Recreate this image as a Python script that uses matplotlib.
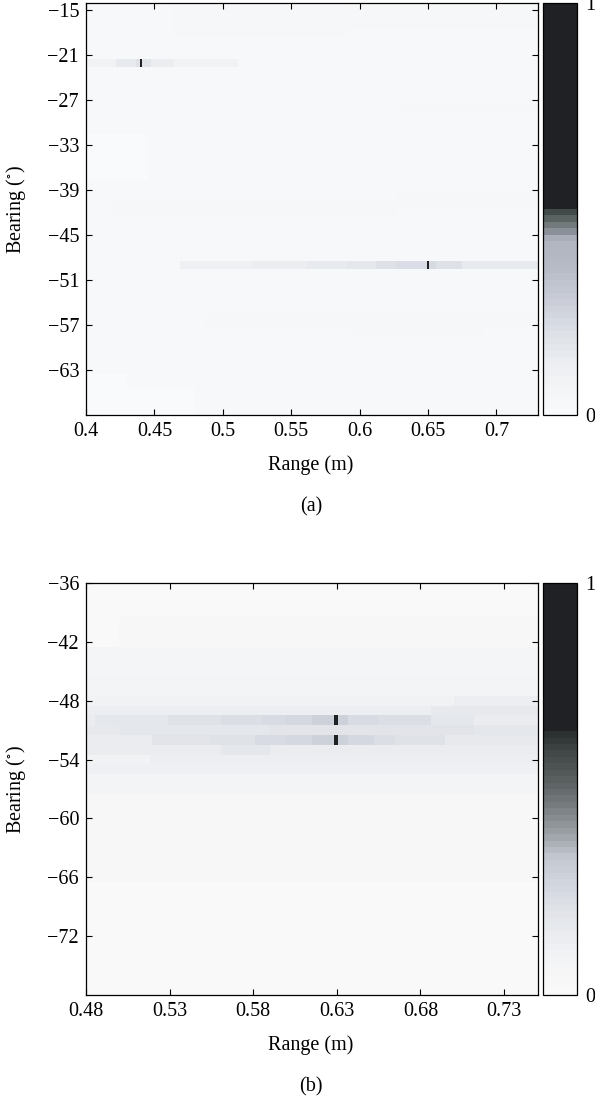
import numpy as np
import matplotlib
matplotlib.use("Agg")
import matplotlib.pyplot as plt
from matplotlib.colors import LinearSegmentedColormap

plt.rcParams["font.family"] = ["Liberation Serif", "DejaVu Serif"]
plt.rcParams["mathtext.fontset"] = "stix"
FS = 14.5

# ---- panel (a) ----
bearing_a = np.arange(-70, -13)          # bearing cells (deg)
range_lim_a = (0.40, 0.73)               # range (m)
base_a = 0.02
# (bearing_low, bearing_high, range_start, range_end, level)
cells_a = [
    (-18, -15, 0.463, 0.592, 0.035),
    (-17, -14, 0.592, 0.730, 0.040),
    (-28, -28, 0.420, 0.630, 0.030),
    (-28, -28, 0.630, 0.730, 0.040),
    (-37, -32, 0.400, 0.445, 0.000),
    (-42, -41, 0.419, 0.627, 0.035),
    (-41, -40, 0.627, 0.730, 0.035),
    (-57, -56, 0.488, 0.730, 0.035),
    (-58, -58, 0.595, 0.690, 0.040),
    (-69, -64, 0.400, 0.430, 0.000),
    (-69, -66, 0.430, 0.480, 0.005),
    # target 1 row
    (-22, -22, 0.4000, 0.4218, 0.090),
    (-22, -22, 0.4218, 0.4364, 0.150),
    (-22, -22, 0.4364, 0.4393, 0.195),
    (-22, -22, 0.4393, 0.4411, 1.000),
    (-22, -22, 0.4411, 0.4474, 0.185),
    (-22, -22, 0.4474, 0.4641, 0.135),
    (-22, -22, 0.4641, 0.4796, 0.090),
    (-22, -22, 0.4796, 0.5110, 0.080),
    # target 2 row
    (-49, -49, 0.4686, 0.5208, 0.105),
    (-49, -49, 0.5208, 0.5608, 0.135),
    (-49, -49, 0.5608, 0.5900, 0.145),
    (-49, -49, 0.5900, 0.6119, 0.165),
    (-49, -49, 0.6119, 0.6265, 0.195),
    (-49, -49, 0.6265, 0.6490, 0.210),
    (-49, -49, 0.6490, 0.6508, 1.000),
    (-49, -49, 0.6508, 0.6556, 0.225),
    (-49, -49, 0.6556, 0.6750, 0.195),
    (-49, -49, 0.6750, 0.6920, 0.150),
    (-49, -49, 0.6920, 0.7300, 0.145),
]
yticks_a = [-15, -21, -27, -33, -39, -45, -51, -57, -63]
xticks_a = [0.4, 0.45, 0.5, 0.55, 0.6, 0.65, 0.7]
xlabels_a = ["0.4", "0.45", "0.5", "0.55", "0.6", "0.65", "0.7"]
ylim_a = (-69, -14)
cmap_a_stops = [(0.0, "#f9fafb"), (0.12, "#eceef1"), (0.2, "#dcdfe6"),
                (0.28, "#c8ccd6"), (0.36, "#b5bac5"), (0.425, "#b0b5c0"),
                (0.44, "#9196a0"), (0.455, "#7c8284"), (0.47, "#646b6b"),
                (0.485, "#4d5555"), (0.5, "#343b3b"), (0.505, "#202124"),
                (1.0, "#202124")]

# ---- panel (b) ----
bearing_b = np.arange(-78, -35)
range_lim_b = (0.48, 0.75)
base_b = 0.014
cells_b = [
    (-66, -58, 0.48, 0.75, 0.035),
    (-57, -56, 0.48, 0.75, 0.090),
    (-55, -55, 0.48, 0.75, 0.115),
    (-54, -54, 0.48, 0.518, 0.100),
    (-54, -54, 0.518, 0.75, 0.135),
    (-53, -53, 0.48, 0.75, 0.155),
    (-53, -53, 0.5611, 0.590, 0.185),
    (-51, -51, 0.48, 0.50, 0.170),
    (-51, -51, 0.50, 0.59, 0.185),
    (-51, -51, 0.59, 0.712, 0.200),
    (-51, -51, 0.712, 0.75, 0.185),
    (-49, -49, 0.48, 0.6864, 0.126),
    (-49, -49, 0.6864, 0.75, 0.170),
    (-48, -48, 0.48, 0.70, 0.100),
    (-48, -48, 0.70, 0.75, 0.126),
    (-47, -46, 0.48, 0.75, 0.090),
    (-45, -43, 0.48, 0.75, 0.065),
    (-42, -40, 0.50, 0.75, 0.035),
    # upper target row
    (-50, -50, 0.4800, 0.4855, 0.155),
    (-50, -50, 0.4855, 0.5292, 0.185),
    (-50, -50, 0.5292, 0.5611, 0.208),
    (-50, -50, 0.5611, 0.5849, 0.225),
    (-50, -50, 0.5849, 0.5989, 0.238),
    (-50, -50, 0.5989, 0.6148, 0.255),
    (-50, -50, 0.6148, 0.6287, 0.283),
    (-50, -50, 0.6287, 0.6307, 1.000),
    (-50, -50, 0.6307, 0.6367, 0.283),
    (-50, -50, 0.6367, 0.6545, 0.245),
    (-50, -50, 0.6545, 0.6864, 0.225),
    (-50, -50, 0.6864, 0.7122, 0.185),
    (-50, -50, 0.7122, 0.7500, 0.155),
    # lower target row
    (-52, -52, 0.4800, 0.5193, 0.155),
    (-52, -52, 0.5193, 0.5551, 0.200),
    (-52, -52, 0.5551, 0.5810, 0.208),
    (-52, -52, 0.5810, 0.5989, 0.238),
    (-52, -52, 0.5989, 0.6148, 0.255),
    (-52, -52, 0.6148, 0.6287, 0.283),
    (-52, -52, 0.6287, 0.6307, 1.000),
    (-52, -52, 0.6307, 0.6367, 0.283),
    (-52, -52, 0.6367, 0.6526, 0.255),
    (-52, -52, 0.6526, 0.6645, 0.225),
    (-52, -52, 0.6645, 0.6943, 0.208),
    (-52, -52, 0.6943, 0.7500, 0.170),
]
yticks_b = [-36, -42, -48, -54, -60, -66, -72]
xticks_b = [0.48, 0.53, 0.58, 0.63, 0.68, 0.73]
xlabels_b = ["0.48", "0.53", "0.58", "0.63", "0.68", "0.73"]
ylim_b = (-78, -36)
cmap_b_stops = [(0.0, "#f9f9fa"), (0.07, "#f4f5f6"), (0.13, "#eceef1"),
                (0.2, "#e0e3e8"), (0.26, "#d3d7e0"), (0.33, "#c4c8d0"),
                (0.37, "#a9adb4"), (0.43, "#858b8e"), (0.515, "#5c6262"),
                (0.595, "#3f4545"), (0.64, "#2a2f2f"), (0.645, "#202124"),
                (1.0, "#202124")]


def build_grid(bearings, rlim, base, cells, step=0.0005):
    r_edges = np.arange(rlim[0], rlim[1] + step / 2, step)
    rc = (r_edges[:-1] + r_edges[1:]) / 2
    z = np.full((len(bearings), len(rc)), base)
    for b0, b1, r0, r1, lev in cells:
        rows = (bearings >= b0) & (bearings <= b1)
        cols = (rc >= r0) & (rc < r1)
        z[np.ix_(rows, cols)] = lev
    b_edges = np.append(bearings - 0.5, bearings[-1] + 0.5)
    return r_edges, b_edges, z


fig = plt.figure(figsize=(5.95, 11.03), dpi=100)
W, H = 595, 1103

panels = [
    (bearing_a, range_lim_a, base_a, cells_a, cmap_a_stops, xticks_a, xlabels_a,
     yticks_a, ylim_a, 415, "(a)"),
    (bearing_b, range_lim_b, base_b, cells_b, cmap_b_stops, xticks_b, xlabels_b,
     yticks_b, ylim_b, 995, "(b)"),
]

for (brg, rlim, base, cells, stops, xt, xl, yt, ylim, bottom_px, cap) in panels:
    r_e, b_e, z = build_grid(brg, rlim, base, cells)
    cmap = LinearSegmentedColormap.from_list("c", stops, N=64)
    ax = fig.add_axes([86 / W, 1 - bottom_px / H, 451.5 / W, 412 / H])
    mesh = ax.pcolormesh(r_e, b_e, z, cmap=cmap, vmin=0, vmax=1, shading="flat")
    ax.set_xlim(rlim)
    ax.set_ylim(ylim)
    ax.set_xticks(xt)
    ax.set_xticklabels(xl)
    ax.set_yticks(yt)
    ax.tick_params(direction="in", top=True, right=True, length=4, width=0.8,
                   labelsize=FS)
    ax.tick_params(axis="x", pad=5)
    ax.tick_params(axis="y", pad=5)
    for s in ax.spines.values():
        s.set_linewidth(0.9)
    cax = fig.add_axes([543 / W, 1 - bottom_px / H, 34 / W, 412 / H])
    cb = fig.colorbar(mesh, cax=cax, ticks=[0, 1])
    cb.ax.tick_params(length=0, pad=6, labelsize=FS)
    cb.outline.set_linewidth(0.9)
    fig.text(311 / W, 1 - (bottom_px + 50) / H, "Range (m)", ha="center",
             va="center", fontsize=FS)
    fig.text(311 / W, 1 - (bottom_px + 92) / H, cap, ha="center", va="center",
             fontsize=FS)
    fig.text(16 / W, 1 - (bottom_px - 206) / H, r"Bearing ($^{\circ}$)",
             rotation=90, ha="center", va="center", fontsize=FS)

fig.savefig("out.png", dpi=100)
